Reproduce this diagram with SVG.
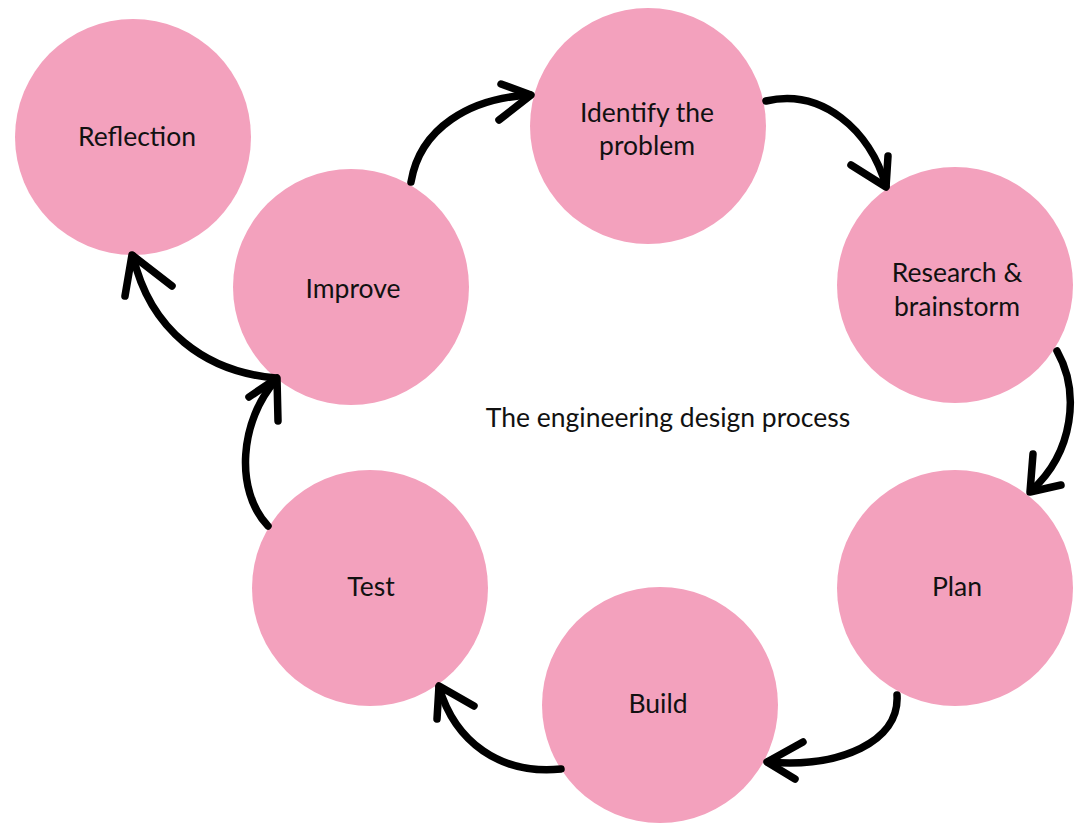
<svg xmlns="http://www.w3.org/2000/svg" width="1075" height="823" viewBox="0 0 1075 823">
  <style>
    .node circle { fill: #F3A1BD; }
    .label { font-family: Lato, "Open Sans", "Liberation Sans", sans-serif; font-size: 26.5px; fill: #111; text-anchor: middle; }
    .arrow { fill: none; stroke: #000; stroke-width: 7.5; stroke-linecap: round; stroke-linejoin: round; }
  </style>
  <rect width="1075" height="823" fill="#fff"/>

  <g id="reflection" class="node">
    <circle cx="133" cy="137" r="118"/>
    <text class="label" x="137" y="146">Reflection</text>
  </g>
  <g id="improve" class="node">
    <circle cx="351" cy="287" r="118"/>
    <text class="label" x="353" y="298">Improve</text>
  </g>
  <g id="identify" class="node">
    <circle cx="648" cy="126" r="118"/>
    <text class="label" x="647" y="122">Identify the</text>
    <text class="label" x="647" y="155">problem</text>
  </g>
  <g id="research" class="node">
    <circle cx="955" cy="285" r="118"/>
    <text class="label" x="957" y="282">Research &amp;</text>
    <text class="label" x="957" y="316">brainstorm</text>
  </g>
  <g id="plan" class="node">
    <circle cx="955" cy="588" r="118"/>
    <text class="label" x="957" y="596">Plan</text>
  </g>
  <g id="build" class="node">
    <circle cx="660" cy="705" r="118"/>
    <text class="label" x="658" y="713">Build</text>
  </g>
  <g id="test" class="node">
    <circle cx="370" cy="588" r="118"/>
    <text class="label" x="371" y="596">Test</text>
  </g>

  <text id="title" class="label" x="668" y="427">The engineering design process</text>

  <g id="connectors">
    <!-- Improve to Identify -->
    <path class="arrow" d="M411 182 C420 128 470 98 530 95"/>
    <path class="arrow" d="M501 84 L531 95 L499 120"/>
    <!-- Identify to Research -->
    <path class="arrow" d="M766 101 C822 88 870 130 886 186"/>
    <path class="arrow" d="M851 165 L886 187 L888 156"/>
    <!-- Research to Plan -->
    <path class="arrow" d="M1057 351 C1080 392 1074 452 1031 491"/>
    <path class="arrow" d="M1033 454 L1030 492 L1061 485"/>
    <!-- Plan to Build -->
    <path class="arrow" d="M897 695 C900 742 840 768 768 762"/>
    <path class="arrow" d="M803 742 L767 762 L795 779"/>
    <!-- Build to Test -->
    <path class="arrow" d="M561 769 C500 775 455 742 439 687"/>
    <path class="arrow" d="M474 706 L439 686 L437 719"/>
    <!-- Test to Improve -->
    <path class="arrow" d="M268 526 C234 490 240 420 276 380"/>
    <path class="arrow" d="M249 397 L277 378 L278 421"/>
    <!-- Improve to Reflection -->
    <path class="arrow" d="M276 378 C205 372 150 330 133 256"/>
    <path class="arrow" d="M125 296 L132 255 L172 286"/>
  </g>
</svg>
